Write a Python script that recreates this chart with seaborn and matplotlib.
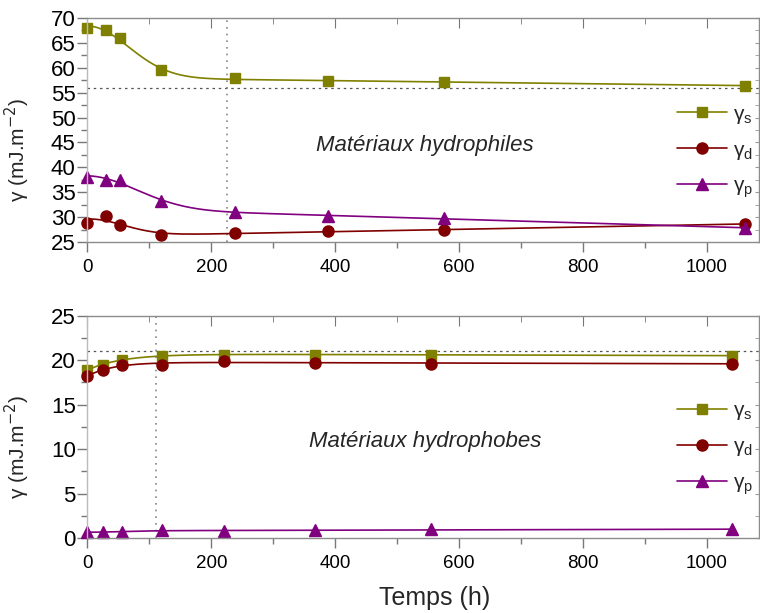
import numpy as np
import pandas as pd
import matplotlib
matplotlib.use('Agg')
import matplotlib.pyplot as plt
import seaborn as sns
from matplotlib.lines import Line2D
from matplotlib.ticker import MultipleLocator

# Matériaux hydrophiles (panneau du haut)
temps_phile = [0, 30, 52, 118, 238, 388, 575, 1062]
gs_phile = [67.9, 67.6, 66.0, 59.6, 57.9, 57.3, 57.2, 56.4]
gd_phile = [28.9, 30.2, 28.5, 26.5, 26.9, 27.2, 27.4, 28.6]
gp_phile = [38.1, 37.5, 37.5, 33.3, 31.0, 30.3, 29.8, 27.8]

# Matériaux hydrophobes (panneau du bas)
temps_phobe = [0, 25, 55, 120, 220, 367, 555, 1040]
gs_phobe = [18.9, 19.5, 20.0, 20.5, 20.6, 20.6, 20.6, 20.5]
gd_phobe = [18.2, 18.9, 19.4, 19.5, 19.9, 19.7, 19.6, 19.6]
gp_phobe = [0.7, 0.7, 0.7, 0.9, 0.8, 0.9, 1.0, 1.0]

series = ['s', 'd', 'p']
couleurs = {'s': '#808000', 'd': '#800000', 'p': '#800080'}
marqueurs = {'s': 's', 'd': 'o', 'p': '^'}
tailles = {'s': 7.5, 'd': 8, 'p': 8.5}


def ajustement(x, y):
    # y = a + b*exp(-(x/tau)^p) + c*x, moindres carres sur une grille de tau/p
    x = np.asarray(x, float)
    y = np.asarray(y, float)
    best = None
    for p in (1.0, 1.5, 2.0):
        for tau in np.linspace(10, 400, 160):
            A = np.column_stack([np.ones_like(x), np.exp(-(x / tau) ** p), x])
            coef, *_ = np.linalg.lstsq(A, y, rcond=None)
            err = np.sum((A @ coef - y) ** 2)
            if best is None or err < best[0]:
                best = (err, p, tau, coef)
    _, p, tau, coef = best
    xf = np.linspace(x.min(), x.max(), 300)
    yf = coef[0] + coef[1] * np.exp(-(xf / tau) ** p) + coef[2] * xf
    return xf, yf


sns.set_style('white')
plt.rcParams['font.family'] = ['Liberation Sans', 'DejaVu Sans']

fig = plt.figure(figsize=(7.6, 6.13), dpi=100)
ax1 = fig.add_axes([0.1151, 0.6052, 0.8836, 0.3654])
ax2 = fig.add_axes([0.1151, 0.1219, 0.8836, 0.3634])

panneaux = [
    (ax1, temps_phile, {'s': gs_phile, 'd': gd_phile, 'p': gp_phile},
     'Matériaux hydrophiles', (25, 70), 56, 225, 0.43),
    (ax2, temps_phobe, {'s': gs_phobe, 'd': gd_phobe, 'p': gp_phobe},
     'Matériaux hydrophobes', (0, 25), 21, 110, 0.436),
]

for ax, t, vals, titre, ylim, yref, xref, ytxt in panneaux:
    ax.axhline(yref, color='#555555', ls=(0, (2, 3)), lw=0.9)
    ax.axvline(xref, color='#888888', ls=(0, (1, 3)), lw=1.2)
    for k in series:
        xf, yf = ajustement(t, vals[k])
        sns.lineplot(x=xf, y=yf, ax=ax, color=couleurs[k], lw=1.2)
        df = pd.DataFrame({'t': t, 'v': vals[k]})
        ax.plot(df['t'], df['v'], ls='none', marker=marqueurs[k],
                color=couleurs[k], ms=tailles[k], mec=couleurs[k], clip_on=False)
    ax.set_xlim(0, 1084)
    ax.set_ylim(*ylim)
    ax.xaxis.set_major_locator(MultipleLocator(200))
    ax.xaxis.set_minor_locator(MultipleLocator(100))
    ax.yaxis.set_major_locator(MultipleLocator(5))
    ax.yaxis.set_minor_locator(MultipleLocator(2.5))
    ax.tick_params(which='both', direction='out', bottom=True, left=True,
                   top=False, right=False,
                   colors='#777777', labelcolor='black')
    ax.tick_params(which='major', length=7, width=1)
    ax.tick_params(which='minor', length=4, width=1)
    ax.tick_params(axis='x', pad=5, labelsize=13.5)
    ax.tick_params(axis='y', pad=1.5, labelsize=16)

    # graduations internes sur les bords haut et droit
    haut = ax.secondary_xaxis('top')
    haut.xaxis.set_major_locator(MultipleLocator(200))
    haut.xaxis.set_minor_locator(MultipleLocator(100))
    haut.tick_params(which='both', direction='in', top=True, labeltop=False,
                     colors='#777777')
    haut.tick_params(which='major', length=7)
    haut.tick_params(which='minor', length=4)
    droite = ax.secondary_yaxis('right')
    droite.yaxis.set_major_locator(MultipleLocator(5))
    droite.yaxis.set_minor_locator(MultipleLocator(2.5))
    droite.tick_params(which='both', direction='in', right=True, labelright=False,
                       colors='#999999', length=3)
    for sec in (haut, droite):
        for s in sec.spines.values():
            s.set_visible(False)

    for s in ax.spines.values():
        s.set_color('#8c8c8c')
        s.set_linewidth(1)
    ax.spines['left'].set_color('#bbbbbb')
    ax.set_ylabel('γ (mJ.m$^{-2}$)', fontsize=15)
    ax.yaxis.set_label_coords(-0.083, 0.41)
    ax.set_xlabel('')
    ax.text(0.503, ytxt, titre, transform=ax.transAxes,
            ha='center', va='center', fontsize=16, style='italic')
    poignees = [Line2D([], [], color=couleurs[k], marker=marqueurs[k], ms=tailles[k],
                       lw=1.2) for k in series]
    etiquettes = ['γ$_\\mathregular{%s}$' % k for k in series]
    ax.legend(poignees, etiquettes, loc='center right',
              bbox_to_anchor=(1.012, 0.40),
              frameon=False, fontsize=15, handlelength=2.4, labelspacing=0.72,
              handletextpad=0.3, borderaxespad=0.25)

ax2.set_xlabel('Temps (h)', fontsize=18)
ax2.xaxis.set_label_coords(0.517, -0.215)

fig.savefig('out.png', dpi=100)
